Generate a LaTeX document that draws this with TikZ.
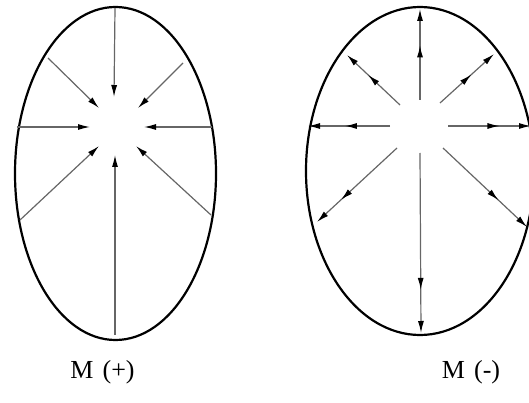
\documentclass[tikz,border=0pt]{standalone}
\usepackage{fontspec}
\setmainfont{Liberation Serif}
\usetikzlibrary{arrows.meta,decorations.markings,shapes.geometric}
\tikzset{
  rim/.style={draw=black, line width=2.2pt},
  ray/.style={draw=black!60, line width=1.2pt},
  tipk/.tip={Latex[length=12pt,width=6pt,color=black]},
  inarr/.style={ray, -tipk},
  outarr/.style={ray, -tipk,
    postaction={decorate,decoration={markings,
      mark=at position #1 with {\arrow{tipk}}}}},
  lbl/.style={font=\fontsize{26}{30}\selectfont, inner sep=0pt}
}
\begin{document}
\begin{tikzpicture}[x=1pt,y=-1pt]
\useasboundingbox (0,0) rectangle (529,403);
% left ellipse M(+)
\node[rim, ellipse, minimum width=201pt, minimum height=333pt, inner sep=0pt] (EL) at (115.5,173.5) {};
\coordinate (lT1) at (115,8);   \coordinate (lT2) at (114,97);
\coordinate (lUL1) at (48,58);  \coordinate (lUL2) at (99,108);
\coordinate (lL1) at (17,127);  \coordinate (lL2) at (90,127);
\coordinate (lUR1) at (183,63); \coordinate (lUR2) at (138,108);
\coordinate (lR1) at (212,127); \coordinate (lR2) at (144,127);
\coordinate (lLL1) at (20,220); \coordinate (lLL2) at (99,146);
\coordinate (lLR1) at (211,215);\coordinate (lLR2) at (136,146);
\coordinate (lB1) at (115,335); \coordinate (lB2) at (115,155);
\foreach \r in {T,UL,L,UR,R,LL,LR,B}
  \draw[inarr] (l\r1) -- (l\r2);
% right ellipse M(-)
\node[rim, ellipse, minimum width=228pt, minimum height=328pt, inner sep=0pt] (ER) at (420,171) {};
\coordinate (rT1) at (420,100);  \coordinate (rT2) at (420,9);
\coordinate (rUL1) at (400,105); \coordinate (rUL2) at (347,55);
\coordinate (rUR1) at (440,103); \coordinate (rUR2) at (494,54);
\coordinate (rL1) at (390,126);  \coordinate (rL2) at (308,126);
\coordinate (rR1) at (448,126);  \coordinate (rR2) at (531,126);
\coordinate (rLL1) at (397,148); \coordinate (rLL2) at (317,222);
\coordinate (rLR1) at (443,148); \coordinate (rLR2) at (527,227);
\coordinate (rB1) at (420,153);  \coordinate (rB2) at (421,333);
\draw[outarr=0.6] (rT1) -- (rT2);
\draw[outarr=0.6] (rUL1) -- (rUL2);
\draw[outarr=0.58] (rUR1) -- (rUR2);
\draw[outarr=0.55] (rL1) -- (rL2);
\draw[outarr=0.62] (rR1) -- (rR2);
\draw[outarr=0.7] (rLL1) -- (rLL2);
\draw[outarr=0.66] (rLR1) -- (rLR2);
\draw[outarr=0.76] (rB1) -- (rB2);
% labels
\node[lbl] (tP) at (102.5,372) {M\hspace{0.35em}(+)};
\node[lbl] (tM) at (471,372) {M\hspace{0.35em}(-)};
\end{tikzpicture}
\end{document}
